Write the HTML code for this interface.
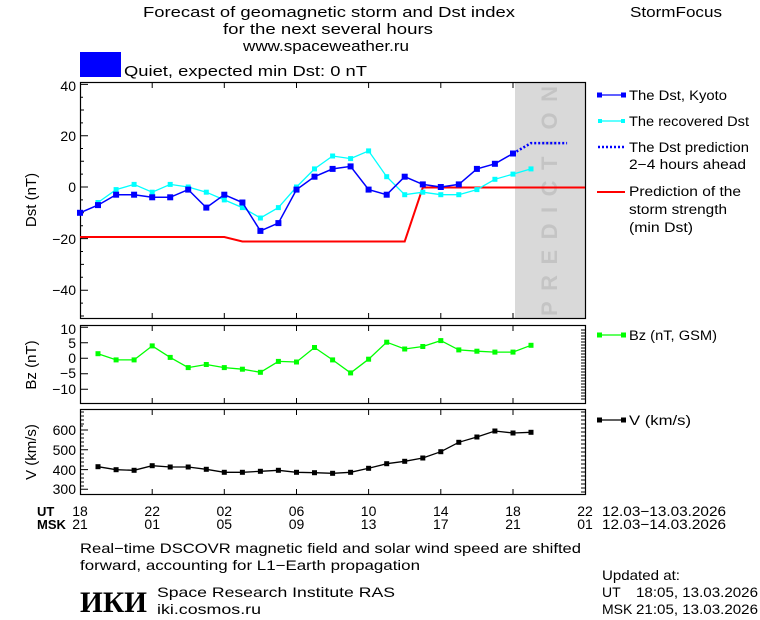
<!DOCTYPE html>
<html><head><meta charset="utf-8"><style>
html,body{margin:0;padding:0;background:#fff;}
svg{display:block;font-family:"Liberation Sans",sans-serif;}
</style></head><body>
<svg width="760" height="620" viewBox="0 0 760 620" xmlns="http://www.w3.org/2000/svg">
<rect width="760" height="620" fill="#fff"/>
<g font-size="15" fill="#000" text-anchor="middle">
<text x="329" y="17" textLength="372" lengthAdjust="spacingAndGlyphs">Forecast of geomagnetic storm and Dst index</text>
<text x="328" y="34" textLength="210" lengthAdjust="spacingAndGlyphs">for the next several hours</text>
<text x="326" y="51" textLength="166" lengthAdjust="spacingAndGlyphs">www.spaceweather.ru</text>
<text x="676" y="17" textLength="92" lengthAdjust="spacingAndGlyphs">StormFocus</text>
</g>
<rect x="80" y="52" width="41" height="25" fill="#0000ff"/>
<text x="124" y="76" font-size="15" textLength="243" lengthAdjust="spacingAndGlyphs">Quiet, expected min Dst: 0 nT</text>

<rect x="515" y="82" width="70" height="237" fill="#d9d9d9"/>
<text transform="translate(557,316) rotate(-90)" font-size="22" fill="#c4c4c4" font-weight="bold" textLength="230" lengthAdjust="spacing">PREDICTION</text>

<rect x="80.5" y="82.5" width="505" height="236" fill="none" stroke="#000" stroke-width="1.2"/>
<g stroke="#000" stroke-width="1">
<path d="M152.2 82v6M224.3 82v6M296.5 82v6M368.6 82v6M440.8 82v6M513 82v6M152.2 319v-6M224.3 319v-6M296.5 319v-6M368.6 319v-6M440.8 319v-6M513 319v-6"/>
<path d="M80 84.4h8M80 135.7h8M80 187h8M80 238.6h8M80 290.2h8M80 110h4M80 161.3h4M80 212.8h4M80 264.4h4M80 316h4M80 97.2h3M80 122.9h3M80 148.5h3M80 174.1h3M80 199.9h3M80 225.7h3M80 251.5h3M80 277.3h3M80 303.1h3"/>
</g>
<g font-size="14" text-anchor="end">
<text x="76" y="91">40</text><text x="76" y="141">20</text><text x="76" y="192">0</text>
<text x="76" y="244">−20</text><text x="76" y="295">−40</text>
</g>
<text transform="translate(36,200) rotate(-90)" font-size="15" text-anchor="middle">Dst (nT)</text>

<polyline fill="none" stroke="#ff0000" stroke-width="2" points="80,237 224.3,237 242.4,241.5 404.7,241.5 422.8,187.5 585,187.5"/>
<polyline fill="none" stroke="#00ffff" stroke-width="1.3" points="98,202.5 116.1,189.6 134.1,184.4 152.2,192.2 170.2,184.4 188.2,187 206.3,192.2 224.3,199.9 242.4,207.6 260.4,218 278.4,207.6 296.5,187 314.5,168.9 332.6,156 350.6,158.6 368.6,150.9 386.7,176.7 404.7,194.7 422.8,192.2 440.8,194.7 458.8,194.7 476.9,189.6 494.9,179.3 513,174.1 531,168.9"/>
<g fill="#00ffff">
<rect x="95.5" y="200" width="5" height="5"/><rect x="113.6" y="187.1" width="5" height="5"/><rect x="131.6" y="181.9" width="5" height="5"/><rect x="149.7" y="189.7" width="5" height="5"/><rect x="167.7" y="181.9" width="5" height="5"/><rect x="185.7" y="184.5" width="5" height="5"/><rect x="203.8" y="189.7" width="5" height="5"/><rect x="221.8" y="197.4" width="5" height="5"/><rect x="239.9" y="205.1" width="5" height="5"/><rect x="257.9" y="215.5" width="5" height="5"/><rect x="275.9" y="205.1" width="5" height="5"/><rect x="294" y="184.5" width="5" height="5"/><rect x="312" y="166.4" width="5" height="5"/><rect x="330.1" y="153.5" width="5" height="5"/><rect x="348.1" y="156.1" width="5" height="5"/><rect x="366.1" y="148.4" width="5" height="5"/><rect x="384.2" y="174.2" width="5" height="5"/><rect x="402.2" y="192.2" width="5" height="5"/><rect x="420.3" y="189.7" width="5" height="5"/><rect x="438.3" y="192.2" width="5" height="5"/><rect x="456.3" y="192.2" width="5" height="5"/><rect x="474.4" y="187.1" width="5" height="5"/><rect x="492.4" y="176.8" width="5" height="5"/><rect x="510.5" y="171.6" width="5" height="5"/><rect x="528.5" y="166.4" width="5" height="5"/>
</g>
<polyline fill="none" stroke="#0000ff" stroke-width="1.5" points="80,212.8 98,205.1 116.1,194.7 134.1,194.7 152.2,197.3 170.2,197.3 188.2,189.6 206.3,207.6 224.3,194.7 242.4,202.5 260.4,230.9 278.4,223.1 296.5,189.6 314.5,176.7 332.6,168.9 350.6,166.4 368.6,189.6 386.7,194.7 404.7,176.7 422.8,184.4 440.8,187 458.8,184.4 476.9,168.9 494.9,163.8 513,153.5"/>
<polyline fill="none" stroke="#0000ff" stroke-width="2.5" stroke-dasharray="2,2" points="513,153.5 531,143.1 567.1,143.1"/>
<g fill="#0000ff">
<rect x="77" y="209.8" width="6" height="6"/><rect x="95" y="202.1" width="6" height="6"/><rect x="113.1" y="191.7" width="6" height="6"/><rect x="131.1" y="191.7" width="6" height="6"/><rect x="149.2" y="194.3" width="6" height="6"/><rect x="167.2" y="194.3" width="6" height="6"/><rect x="185.2" y="186.6" width="6" height="6"/><rect x="203.3" y="204.6" width="6" height="6"/><rect x="221.3" y="191.7" width="6" height="6"/><rect x="239.4" y="199.5" width="6" height="6"/><rect x="257.4" y="227.9" width="6" height="6"/><rect x="275.4" y="220.1" width="6" height="6"/><rect x="293.5" y="186.6" width="6" height="6"/><rect x="311.5" y="173.7" width="6" height="6"/><rect x="329.6" y="165.9" width="6" height="6"/><rect x="347.6" y="163.4" width="6" height="6"/><rect x="365.6" y="186.6" width="6" height="6"/><rect x="383.7" y="191.7" width="6" height="6"/><rect x="401.7" y="173.7" width="6" height="6"/><rect x="419.8" y="181.4" width="6" height="6"/><rect x="437.8" y="184" width="6" height="6"/><rect x="455.8" y="181.4" width="6" height="6"/><rect x="473.9" y="165.9" width="6" height="6"/><rect x="491.9" y="160.8" width="6" height="6"/><rect x="510" y="150.5" width="6" height="6"/>
</g>

<g font-size="13.5">
<line x1="600" y1="95" x2="623" y2="95" stroke="#0000ff" stroke-width="1.2"/>
<rect x="597" y="92.5" width="5" height="5" fill="#0000ff"/><rect x="621" y="92.5" width="5" height="5" fill="#0000ff"/>
<text x="629" y="100" textLength="98" lengthAdjust="spacingAndGlyphs">The Dst, Kyoto</text>
<line x1="600" y1="121" x2="623" y2="121" stroke="#00ffff" stroke-width="1.2"/>
<rect x="598" y="119" width="4" height="4" fill="#00ffff"/><rect x="621" y="119" width="4" height="4" fill="#00ffff"/>
<text x="629" y="126" textLength="120" lengthAdjust="spacingAndGlyphs">The recovered Dst</text>
<line x1="598" y1="147" x2="625" y2="147" stroke="#0000ff" stroke-width="2.5" stroke-dasharray="2,2"/>
<text x="629" y="152" textLength="120" lengthAdjust="spacingAndGlyphs">The Dst prediction</text>
<text x="629" y="169" textLength="117" lengthAdjust="spacingAndGlyphs">2−4 hours ahead</text>
<line x1="597" y1="192" x2="625" y2="192" stroke="#ff0000" stroke-width="2"/>
<text x="629" y="196" textLength="112" lengthAdjust="spacingAndGlyphs">Prediction of the</text>
<text x="629" y="214" textLength="98" lengthAdjust="spacingAndGlyphs">storm strength</text>
<text x="629" y="232" textLength="64" lengthAdjust="spacingAndGlyphs">(min Dst)</text>
<line x1="597" y1="335" x2="625" y2="335" stroke="#00ff00" stroke-width="1.2"/>
<rect x="597" y="332.5" width="5" height="5" fill="#00ff00"/><rect x="621" y="332.5" width="5" height="5" fill="#00ff00"/>
<text x="629" y="340" textLength="88" lengthAdjust="spacingAndGlyphs">Bz (nT, GSM)</text>
<line x1="597" y1="420" x2="625" y2="420" stroke="#000" stroke-width="1.2"/>
<rect x="597" y="417.5" width="5" height="5" fill="#000"/><rect x="621" y="417.5" width="5" height="5" fill="#000"/>
<text x="629" y="425" textLength="62" lengthAdjust="spacingAndGlyphs">V (km/s)</text>
</g>

<rect x="80.5" y="325.5" width="505" height="78" fill="none" stroke="#000" stroke-width="1.2"/>
<g stroke="#000" stroke-width="1">
<path d="M152.2 325v6M224.3 325v6M296.5 325v6M368.6 325v6M440.8 325v6M513 325v6M152.2 404v-6M224.3 404v-6M296.5 404v-6M368.6 404v-6M440.8 404v-6M513 404v-6"/>
<path d="M80 327.3h8M80 342.8h8M80 358.3h8M80 373.8h8M80 389.3h8"/>
<path d="M585 330h-4M585 333h-4M585 336h-4M585 339h-4M585 342h-4M585 345h-4M585 348h-4M585 351h-4M585 354h-4M585 357h-4M585 360h-4M585 363h-4M585 366h-4M585 369h-4M585 372h-4M585 375h-4M585 378h-4M585 381h-4M585 384h-4M585 387h-4M585 390h-4M585 393h-4M585 396h-4M585 399h-4"/>
</g>
<g font-size="14" text-anchor="end">
<text x="76" y="334">10</text><text x="76" y="348">5</text><text x="76" y="363">0</text><text x="76" y="378">−5</text><text x="76" y="394">−10</text>
</g>
<text transform="translate(36,365) rotate(-90)" font-size="15" text-anchor="middle">Bz (nT)</text>
<polyline fill="none" stroke="#00ff00" stroke-width="1.3" points="98,353.7 116.1,359.9 134.1,359.9 152.2,345.9 170.2,357.4 188.2,367.6 206.3,364.5 224.3,367.6 242.4,369.2 260.4,372.3 278.4,361.4 296.5,362 314.5,347.5 332.6,359.9 350.6,372.9 368.6,359.2 386.7,342.2 404.7,349 422.8,346.5 440.8,340.6 458.8,349.9 476.9,351.2 494.9,352.1 513,352.1 531,345.3"/>
<g fill="#00ff00">
<rect x="95.5" y="351.2" width="5" height="5"/><rect x="113.6" y="357.4" width="5" height="5"/><rect x="131.6" y="357.4" width="5" height="5"/><rect x="149.7" y="343.4" width="5" height="5"/><rect x="167.7" y="354.9" width="5" height="5"/><rect x="185.7" y="365.1" width="5" height="5"/><rect x="203.8" y="362" width="5" height="5"/><rect x="221.8" y="365.1" width="5" height="5"/><rect x="239.9" y="366.7" width="5" height="5"/><rect x="257.9" y="369.8" width="5" height="5"/><rect x="275.9" y="358.9" width="5" height="5"/><rect x="294" y="359.5" width="5" height="5"/><rect x="312" y="345" width="5" height="5"/><rect x="330.1" y="357.4" width="5" height="5"/><rect x="348.1" y="370.4" width="5" height="5"/><rect x="366.1" y="356.7" width="5" height="5"/><rect x="384.2" y="339.7" width="5" height="5"/><rect x="402.2" y="346.5" width="5" height="5"/><rect x="420.3" y="344" width="5" height="5"/><rect x="438.3" y="338.1" width="5" height="5"/><rect x="456.3" y="347.4" width="5" height="5"/><rect x="474.4" y="348.7" width="5" height="5"/><rect x="492.4" y="349.6" width="5" height="5"/><rect x="510.5" y="349.6" width="5" height="5"/><rect x="528.5" y="342.8" width="5" height="5"/>
</g>

<rect x="80.5" y="409.5" width="505" height="85" fill="none" stroke="#000" stroke-width="1.2"/>
<g stroke="#000" stroke-width="1">
<path d="M152.2 409v6M224.3 409v6M296.5 409v6M368.6 409v6M440.8 409v6M513 409v6M152.2 495v-6M224.3 495v-6M296.5 495v-6M368.6 495v-6M440.8 495v-6M513 495v-6"/>
<path d="M80 430h8M80 449.8h8M80 469.6h8M80 489.3h8"/>
<path d="M80 412h4M80 416h4M80 420h4M80 424h4M80 426h3M80 434h4M80 438h4M80 442h4M80 446h4M80 454h4M80 458h4M80 462h4M80 466h4M80 474h4M80 478h4M80 482h4M80 486h4"/>
<path d="M585 412h-4M585 416h-4M585 420h-4M585 424h-4M585 428h-4M585 432h-4M585 436h-4M585 440h-4M585 444h-4M585 448h-4M585 452h-4M585 456h-4M585 460h-4M585 464h-4M585 468h-4M585 472h-4M585 476h-4M585 480h-4M585 484h-4M585 488h-4M585 492h-4"/>
</g>
<g font-size="14" text-anchor="end">
<text x="76" y="435">600</text><text x="76" y="455">500</text><text x="76" y="475">400</text><text x="76" y="494">300</text>
</g>
<text transform="translate(36,452) rotate(-90)" font-size="15" text-anchor="middle">V (km/s)</text>
<polyline fill="none" stroke="#000" stroke-width="1.3" points="98,466.7 116.1,469.7 134.1,470.3 152.2,465.7 170.2,467 188.2,467 206.3,469.3 224.3,472.3 242.4,472.3 260.4,471.3 278.4,470.3 296.5,472.3 314.5,472.7 332.6,473.3 350.6,472.3 368.6,468.3 386.7,463.7 404.7,461.3 422.8,458 440.8,451.7 458.8,442.3 476.9,437 494.9,431 513,433 531,432.3"/>
<g fill="#000">
<rect x="95.5" y="464.2" width="5" height="5"/><rect x="113.6" y="467.2" width="5" height="5"/><rect x="131.6" y="467.8" width="5" height="5"/><rect x="149.7" y="463.2" width="5" height="5"/><rect x="167.7" y="464.5" width="5" height="5"/><rect x="185.7" y="464.5" width="5" height="5"/><rect x="203.8" y="466.8" width="5" height="5"/><rect x="221.8" y="469.8" width="5" height="5"/><rect x="239.9" y="469.8" width="5" height="5"/><rect x="257.9" y="468.8" width="5" height="5"/><rect x="275.9" y="467.8" width="5" height="5"/><rect x="294" y="469.8" width="5" height="5"/><rect x="312" y="470.2" width="5" height="5"/><rect x="330.1" y="470.8" width="5" height="5"/><rect x="348.1" y="469.8" width="5" height="5"/><rect x="366.1" y="465.8" width="5" height="5"/><rect x="384.2" y="461.2" width="5" height="5"/><rect x="402.2" y="458.8" width="5" height="5"/><rect x="420.3" y="455.5" width="5" height="5"/><rect x="438.3" y="449.2" width="5" height="5"/><rect x="456.3" y="439.8" width="5" height="5"/><rect x="474.4" y="434.5" width="5" height="5"/><rect x="492.4" y="428.5" width="5" height="5"/><rect x="510.5" y="430.5" width="5" height="5"/><rect x="528.5" y="429.8" width="5" height="5"/>
</g>

<g font-size="14" text-anchor="middle">
<text x="80" y="516">18</text><text x="152.2" y="516">22</text><text x="224.3" y="516">02</text><text x="296.5" y="516">06</text><text x="368.6" y="516">10</text><text x="440.8" y="516">14</text><text x="513" y="516">18</text><text x="585" y="516">22</text>
<text x="80" y="529">21</text><text x="152.2" y="529">01</text><text x="224.3" y="529">05</text><text x="296.5" y="529">09</text><text x="368.6" y="529">13</text><text x="440.8" y="529">17</text><text x="513" y="529">21</text><text x="585" y="529">01</text>
</g>
<g font-size="13" font-weight="bold">
<text x="37" y="516">UT</text><text x="37" y="529">MSK</text>
</g>
<g font-size="14">
<text x="602" y="516" textLength="124" lengthAdjust="spacingAndGlyphs">12.03−13.03.2026</text>
<text x="602" y="529" textLength="124" lengthAdjust="spacingAndGlyphs">12.03−14.03.2026</text>
<text x="80" y="553" textLength="501" lengthAdjust="spacingAndGlyphs">Real−time DSCOVR magnetic field and solar wind speed are shifted</text>
<text x="80" y="570" textLength="340" lengthAdjust="spacingAndGlyphs">forward, accounting for L1−Earth propagation</text>
<text x="157" y="597" textLength="238" lengthAdjust="spacingAndGlyphs">Space Research Institute RAS</text>
<text x="157" y="614" textLength="104" lengthAdjust="spacingAndGlyphs">iki.cosmos.ru</text>
<text x="602" y="580" textLength="78" lengthAdjust="spacingAndGlyphs">Updated at:</text>
<text x="602" y="597">UT</text>
<text x="636" y="597" textLength="122" lengthAdjust="spacingAndGlyphs">18:05, 13.03.2026</text>
<text x="602" y="614">MSK</text>
<text x="636" y="614" textLength="122" lengthAdjust="spacingAndGlyphs">21:05, 13.03.2026</text>
</g>
<text x="80" y="612" font-family="Liberation Serif,serif" font-size="30" font-weight="bold" textLength="67" lengthAdjust="spacingAndGlyphs">ИКИ</text>
</svg>
</body></html>
